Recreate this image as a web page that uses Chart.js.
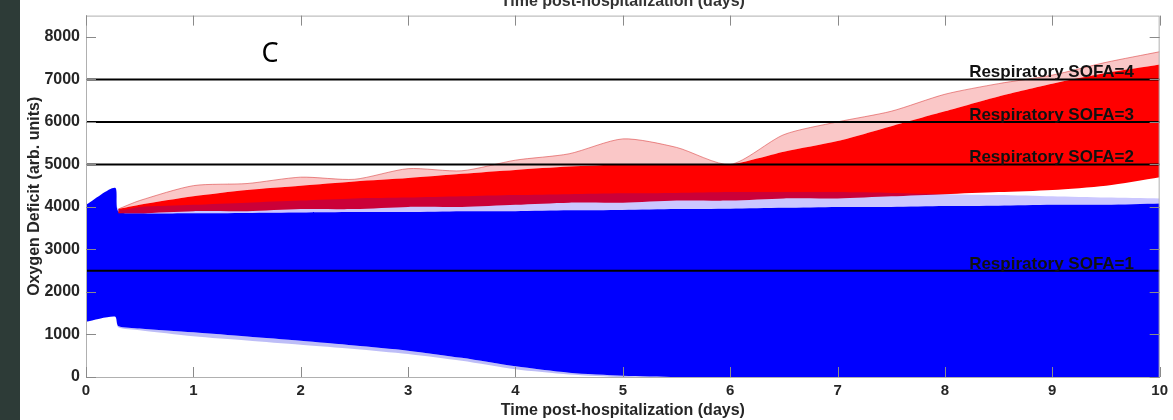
<!DOCTYPE html>
<html>
<head>
<meta charset="utf-8">
<script src="https://cdn.jsdelivr.net/npm/chart.js@4.4.0/dist/chart.umd.min.js"></script>
<style>
  html, body { margin: 0; padding: 0; background: #fff; }
  #wrap { width: 1173px; height: 420px; position: relative; }
</style>
</head>
<body>
<div id="wrap"><canvas id="chart"></canvas></div>
<script>
// x ticks / y ticks
const xTicks = [0, 1, 2, 3, 4, 5, 6, 7, 8, 9, 10];
const yTicks = [0, 1000, 2000, 3000, 4000, 5000, 6000, 7000, 8000];

// blue trajectories (non-progressing): envelope
const blueTimes    = [0, 0.27, 0.3, 0.5, 1, 1.5, 2, 2.5, 3, 3.5, 4, 4.5, 5, 5.5, 6, 6.5, 7, 7.5, 8, 8.5, 9, 9.5, 10];
const blueTop      = [4050, 4450, 3900, 3850, 3850, 3860, 3870, 3880, 3880, 3900, 3900, 3920, 3930, 3950, 3960, 3980, 4000, 4000, 4020, 4030, 4050, 4050, 4080];
const blueBottom   = [1300, 1420, 1200, 1140, 1050, 950, 850, 740, 620, 450, 250, 100, 30, 0, 0, 0, 0, 0, 0, 0, 0, 0, 0];
const blueLowOuter = [1300, 1420, 1170, 1100, 960, 860, 760, 660, 540, 380, 180, 60, 0, 0, 0, 0, 0, 0, 0, 0, 0, 0, 0];
const blueMixTop   = [4050, 4450, 3950, 4000, 4050, 4100, 4150, 4200, 4220, 4250, 4280, 4300, 4320, 4330, 4350, 4350, 4350, 4330, 4300, 4280, 4250, 4220, 4200];

// red trajectories (progressing)
const redTimes  = [0.3, 0.5, 1, 1.5, 2, 2.5, 3, 3.5, 4, 4.5, 5, 5.5, 6, 6.5, 7, 7.5, 8, 8.5, 9, 9.5, 10];
const redTop    = [3950, 4050, 4250, 4400, 4500, 4600, 4680, 4780, 4870, 4950, 5000, 5000, 5000, 5300, 5550, 5900, 6250, 6600, 6900, 7150, 7350];
const redOuter  = [3950, 4150, 4500, 4550, 4700, 4650, 4900, 4850, 5100, 5250, 5600, 5400, 5000, 5700, 6000, 6250, 6650, 6900, 7100, 7400, 7650];
const redBottom = [3850, 3850, 3900, 3900, 3950, 3950, 4000, 4000, 4050, 4100, 4100, 4150, 4150, 4200, 4200, 4250, 4300, 4350, 4400, 4500, 4700];

// SOFA thresholds
const sofaLevels = [2500, 5000, 6000, 7000];
const sofaLabels = ["Respiratory SOFA=1", "Respiratory SOFA=2", "Respiratory SOFA=3", "Respiratory SOFA=4"];

const pts = (xs, ys) => xs.map((x, i) => ({ x: x, y: ys[i] }));

function band(lowData, highData, color, order, edge) {
  return [
    { data: lowData, borderWidth: 0, pointRadius: 0, fill: false, order: order },
    {
      data: highData,
      borderWidth: edge ? 1 : 0,
      borderColor: edge || "transparent",
      pointRadius: 0,
      fill: "-1",
      backgroundColor: color,
      order: order,
    },
  ];
}

const datasets = [];
// order: higher = drawn first (underneath)
datasets.push(...band(pts(blueTimes, blueLowOuter), pts(blueTimes, blueBottom), "rgba(90,90,235,0.4)", 11));
datasets.push(...band(pts(blueTimes, blueBottom), pts(blueTimes, blueTop), "#0000ff", 10));
datasets.push(...band(pts(redTimes, redTop), pts(redTimes, redOuter), "rgba(240,70,70,0.3)", 8, "rgba(220,70,70,0.6)"));
datasets.push(...band(pts(redTimes, redBottom), pts(redTimes, redTop), "#ff0000", 7));
datasets.push(...band(pts(blueTimes, blueTop), pts(blueTimes, blueMixTop), "rgba(20,0,255,0.22)", 6));
sofaLevels.forEach((lv) => {
  datasets.push({
    data: [{ x: 0, y: lv }, { x: 10, y: lv }],
    borderColor: "#000",
    borderWidth: 2,
    pointRadius: 0,
    fill: false,
    order: 1,
  });
});

// extra drawing: dark strip, box, inward ticks, labels
const decor = {
  id: "decor",
  beforeDraw(chart) {
    const ctx = chart.ctx;
    ctx.save();
    ctx.fillStyle = "#fff";
    ctx.fillRect(0, 0, chart.width, chart.height);
    ctx.restore();
  },
  afterDatasetsDraw(chart) {
    const ctx = chart.ctx;
    const a = chart.chartArea;
    const xs = chart.scales.x, ys = chart.scales.y;
    ctx.save();
    // box
    ctx.strokeStyle = "#b0b0b0";
    ctx.lineWidth = 1;
    ctx.strokeRect(a.left + 0.5, a.top + 0.5, a.right - a.left - 1, a.bottom - a.top);
    // inward ticks
    ctx.strokeStyle = "#8a8a8a";
    ctx.beginPath();
    xTicks.forEach((t) => {
      const px = Math.round(xs.getPixelForValue(t)) + 0.5;
      ctx.moveTo(px, a.top); ctx.lineTo(px, a.top + 10);
      ctx.moveTo(px, a.bottom); ctx.lineTo(px, a.bottom - 10);
    });
    yTicks.forEach((t) => {
      const py = Math.round(ys.getPixelForValue(t)) + 0.5;
      ctx.moveTo(a.left, py); ctx.lineTo(a.left + 10, py);
      ctx.moveTo(a.right, py); ctx.lineTo(a.right - 10, py);
    });
    ctx.stroke();

    // SOFA labels
    ctx.fillStyle = "#111";
    ctx.font = "bold 17px 'Liberation Sans', Arial, sans-serif";
    ctx.textAlign = "right";
    ctx.textBaseline = "alphabetic";
    sofaLevels.forEach((lv, i) => {
      ctx.fillText(sofaLabels[i], 1134, ys.getPixelForValue(lv) - 2);
    });

    // panel letter
    ctx.fillStyle = "#000";
    ctx.font = "27px 'Noto Sans', 'Open Sans', sans-serif";
    ctx.textAlign = "center";
    ctx.fillText("C", 270, 62);

    // clipped top title from the panel above
    ctx.fillStyle = "#333";
    ctx.font = "bold 16px 'Liberation Sans', Arial, sans-serif";
    ctx.fillText("Time post-hospitalization (days)", (a.left + a.right) / 2, 6);

    // dark side strip
    ctx.fillStyle = "#2d3b37";
    ctx.fillRect(0, 0, 20, chart.height);
    ctx.restore();
  },
};

new Chart(document.getElementById("chart"), {
  type: "line",
  data: { datasets: datasets },
  plugins: [decor],
  options: {
    responsive: true,
    maintainAspectRatio: false,
    animation: false,
    events: [],
    layout: { padding: { left: 20, right: 13, top: 10, bottom: 0 } },
    plugins: {
      legend: { display: false },
      tooltip: { enabled: false },
      filler: { propagate: false },
    },
    elements: { line: { tension: 0.25 } },
    scales: {
      x: {
        type: "linear",
        min: 0,
        max: 10,
        afterBuildTicks: (s) => { s.ticks = xTicks.map((v) => ({ value: v })); },
        afterFit: (s) => { s.height = 43; },
        grid: { display: false, drawTicks: false },
        border: { color: "#b0b0b0" },
        ticks: {
          color: "#262626",
          font: { family: "'Liberation Sans', Arial, sans-serif", size: 15, weight: "bold" },
          padding: 5,
          maxRotation: 0,
          callback: (v) => String(v),
        },
        title: {
          display: true,
          text: "Time post-hospitalization (days)",
          color: "#262626",
          font: { family: "'Liberation Sans', Arial, sans-serif", size: 16, weight: "bold" },
          padding: { top: 0, bottom: 0 },
        },
      },
      y: {
        min: 0,
        max: 8500,
        afterBuildTicks: (s) => { s.ticks = yTicks.map((v) => ({ value: v })); },
        afterFit: (s) => { s.width = 66; },
        grid: { display: false, drawTicks: false },
        border: { color: "#b0b0b0" },
        ticks: {
          color: "#262626",
          font: { family: "'Liberation Sans', Arial, sans-serif", size: 16, weight: "bold" },
          padding: 6,
          callback: (v) => String(v),
        },
        title: {
          display: true,
          text: "Oxygen Deficit (arb. units)",
          color: "#262626",
          font: { family: "'Liberation Sans', Arial, sans-serif", size: 16, weight: "bold" },
          padding: { top: 5, bottom: 0 },
        },
      },
    },
  },
});
</script>
</body>
</html>
